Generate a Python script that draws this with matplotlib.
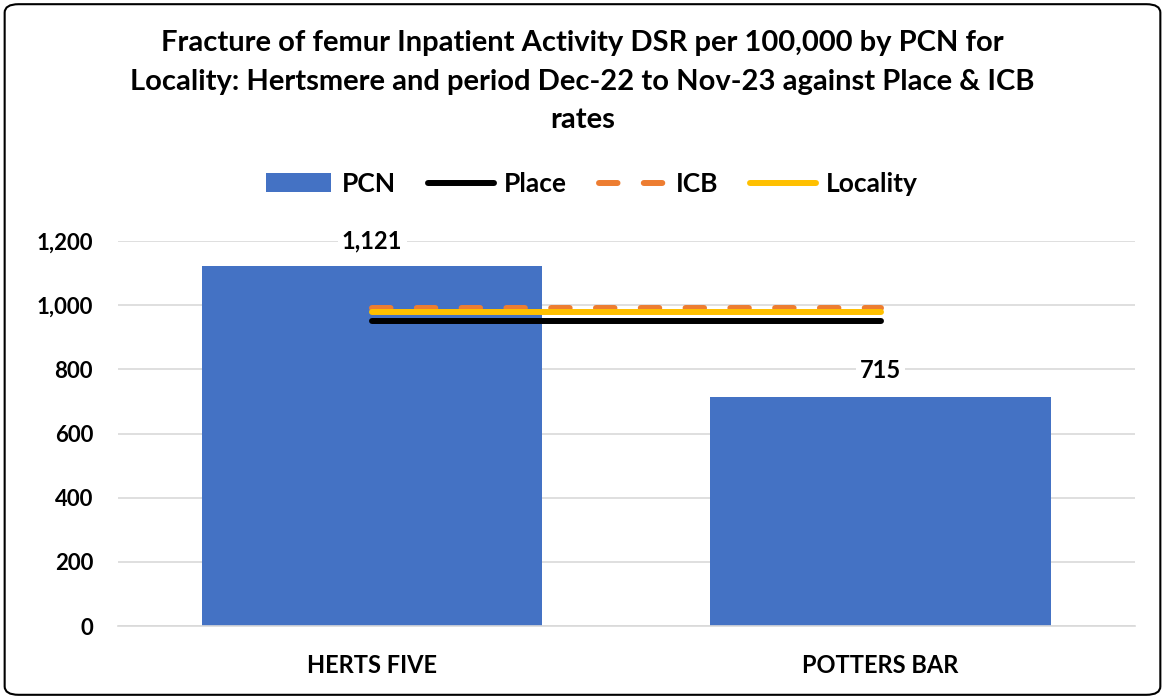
import matplotlib.pyplot as plt
from matplotlib.patches import FancyBboxPatch
import numpy as np

plt.rcParams['font.family'] = ['Lato', 'DejaVu Sans']

# Data
pcns = ['HERTS FIVE', 'POTTERS BAR']
pcn_rate = [1121, 715]
place_rate = [951, 951]
icb_rate = [991, 991]
locality_rate = [979, 979]

fig = plt.figure(figsize=(11.65, 6.99), dpi=100)
ax = fig.add_axes([0.1013, 0.1044, 0.8727, 0.5508])

# Rounded border around the whole chart
border = FancyBboxPatch((0.004, 0.006), 0.992, 0.988,
                        boxstyle="round,pad=0,rounding_size=0.012",
                        transform=fig.transFigure, facecolor='white',
                        edgecolor='black', linewidth=1.5, zorder=-10)
fig.patches.append(border)

x = np.arange(len(pcns))
bars = ax.bar(x, pcn_rate, width=0.67, color='#4472C4', label='PCN', zorder=2)

l_place, = ax.plot(x, place_rate, color='black', lw=4.3, solid_capstyle='round', label='Place', zorder=3)
l_icb, = ax.plot(x, icb_rate, color='#ED7D31', lw=4.3, dashes=(3.1, 4.4), dash_capstyle='round', label='ICB', zorder=3)
l_loc, = ax.plot(x, locality_rate, color='#FFC000', lw=4.3, solid_capstyle='round', label='Locality', zorder=4)

for bar, val in zip(bars, pcn_rate):
    ax.text(bar.get_x() + bar.get_width() / 2, val + 45, f'{val:,}',
            ha='center', va='bottom', fontsize=17, fontweight='bold',
            bbox=dict(facecolor='white', edgecolor='none', pad=3), zorder=5)

ax.set_xlim(-0.5, 1.5)
ax.set_ylim(0, 1200)
ax.set_yticks(range(0, 1201, 200))
ax.set_yticklabels([f'{v:,}' for v in range(0, 1201, 200)], fontsize=16, fontweight='bold')
ax.set_xticks(x)
ax.set_xticklabels(pcns, fontsize=17, fontweight='bold')
ax.tick_params(axis='y', length=0, pad=18)
ax.tick_params(axis='x', length=0, pad=20)
ax.grid(axis='y', color='#D9D9D9', lw=1.2, zorder=0)
ax.set_axisbelow(True)
for s in ['top', 'right', 'left']:
    ax.spines[s].set_visible(False)
ax.spines['bottom'].set_color('#D9D9D9')
ax.spines['bottom'].set_linewidth(1.2)

fig.text(0.5, 0.957, 'Fracture of femur Inpatient Activity DSR per 100,000 by PCN for\n'
         'Locality: Hertsmere and period Dec-22 to Nov-23 against Place & ICB\nrates',
         ha='center', va='top', fontsize=21, fontweight='bold', linespacing=1.6)

fig.legend(handles=[bars, l_place, l_icb, l_loc], labels=['PCN', 'Place', 'ICB', 'Locality'],
           loc='center', bbox_to_anchor=(0.508, 0.737), ncol=4, frameon=False,
           handlelength=2.5, columnspacing=1.2, handletextpad=0.4,
           prop={'weight': 'bold', 'size': 19})

fig.savefig('out.png', dpi=100, facecolor='white')
